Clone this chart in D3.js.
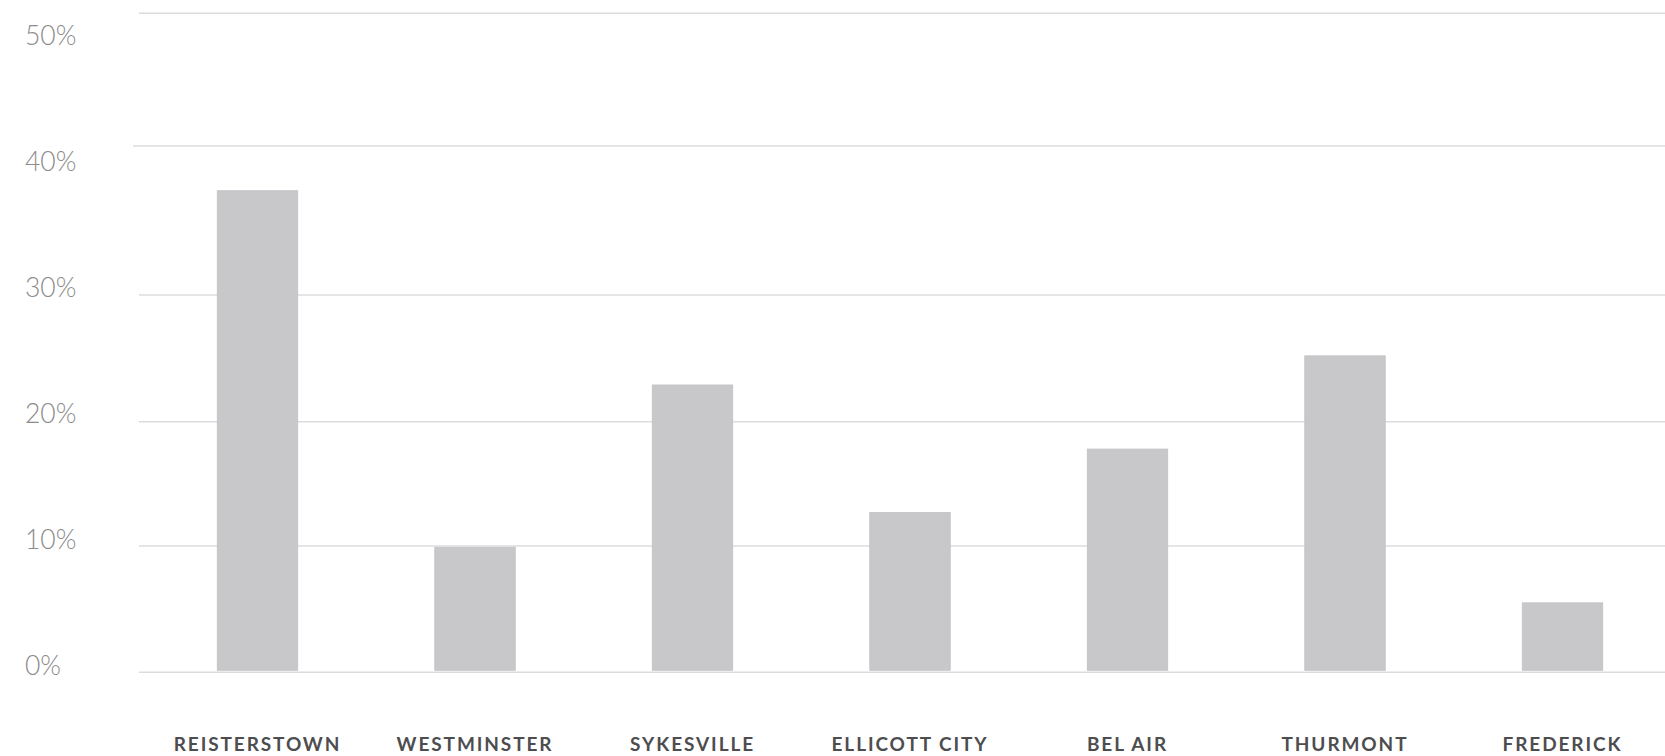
<!DOCTYPE html>
<html>
<head>
<meta charset="utf-8">
<script src="https://cdn.jsdelivr.net/npm/d3@7"></script>
<style>
  html, body { margin: 0; padding: 0; background: #ffffff; }
  svg { display: block; }
</style>
</head>
<body>
<svg id="chart" width="1665" height="756"></svg>
<script>
// ---- data ----
const categories = ["REISTERSTOWN", "WESTMINSTER", "SYKESVILLE", "ELLICOTT CITY", "BEL AIR", "THURMONT", "FREDERICK"];
const values = [37.0, 9.9, 22.9, 12.7, 17.8, 25.2, 5.5];
const tickValues = [0, 10, 20, 30, 40, 50];
const tickLabels = ["0%", "10%", "20%", "30%", "40%", "50%"];

// ---- layout ----
const W = 1665, H = 756;
const svg = d3.select("#chart");

// The original artwork's gridlines are not evenly spaced; a polylinear scale follows them.
const y = d3.scaleLinear()
  .domain(tickValues)
  .range([672.3, 546, 421.7, 295, 146, 13.3]);

// Tick labels sit on an evenly spaced ruler in the original.
const yLabel = d3.scaleLinear().domain([0, 50]).range([666, 36]);

const x = d3.scaleBand()
  .domain(categories)
  .range([148.75, 1671.25])
  .paddingInner(0.63)
  .paddingOuter(0.315);

// gridlines
svg.append("g").selectAll("line")
  .data(tickValues)
  .join("line")
  .attr("x1", d => d === 40 ? 133 : 139)
  .attr("x2", W)
  .attr("y1", d => y(d))
  .attr("y2", d => y(d))
  .attr("stroke", "#dcdcde")
  .attr("stroke-width", 1.5);

// bars
svg.append("g").selectAll("rect")
  .data(values)
  .join("rect")
  .attr("x", (d, i) => x(categories[i]))
  .attr("width", x.bandwidth())
  .attr("y", d => y(d))
  .attr("height", d => y(0) - 2 - y(d))
  .attr("fill", "#c8c8cb")
  .attr("stroke", "#c2c2c5")
  .attr("stroke-width", 0.8);

// y labels
svg.append("g").selectAll("text")
  .data(tickValues)
  .join("text")
  .attr("x", 25)
  .attr("y", d => yLabel(d))
  .attr("dy", "0.35em")
  .attr("font-family", "Lato, 'Open Sans', sans-serif")
  .attr("font-weight", 300)
  .attr("font-size", 26.5)
  .attr("fill", "#8c8c8c")
  .text((d, i) => tickLabels[i]);

// x labels
svg.append("g").selectAll("text")
  .data(categories)
  .join("text")
  .attr("x", d => x(d) + x.bandwidth() / 2)
  .attr("y", 750.5)
  .attr("text-anchor", "middle")
  .attr("font-family", "Lato, 'Open Sans', sans-serif")
  .attr("font-weight", 700)
  .attr("font-size", 19)
  .attr("letter-spacing", "1.9px")
  .attr("fill", "#4d4d4f")
  .text(d => d);
</script>
</body>
</html>
